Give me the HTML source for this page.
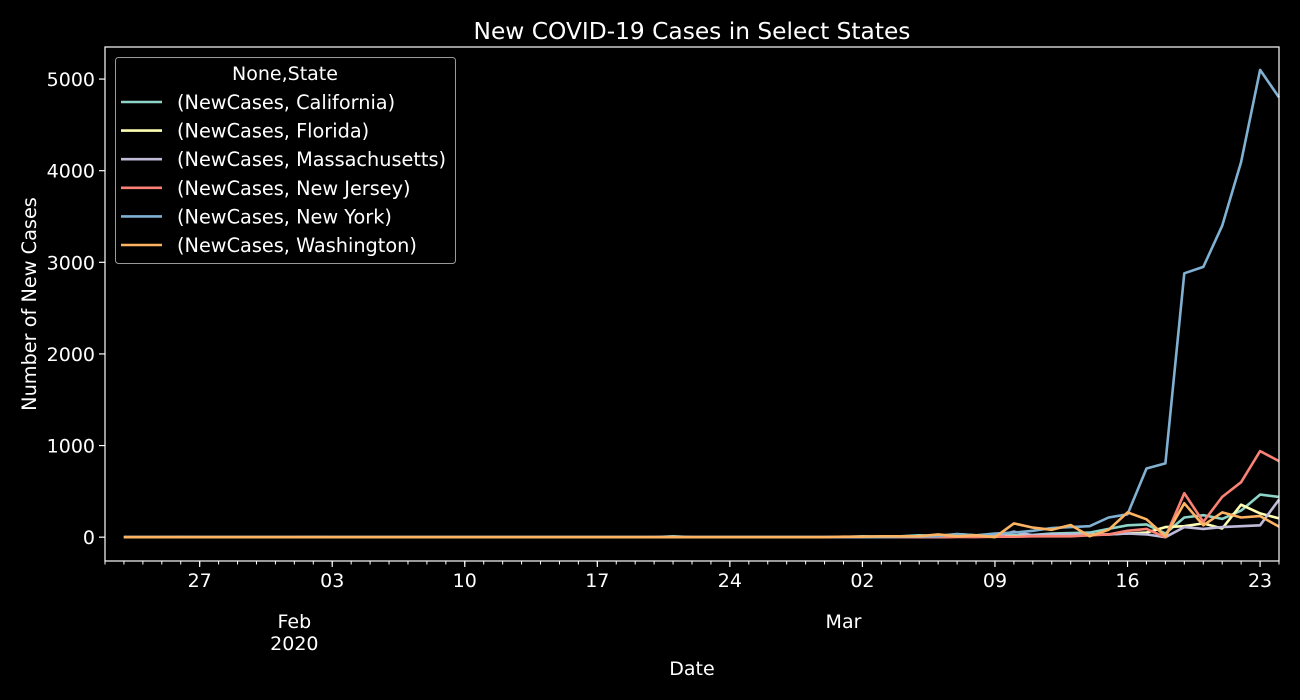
<!DOCTYPE html>
<html><head><meta charset="utf-8"><style>
html,body{margin:0;padding:0;background:#000;}
svg{display:block;font-family:"DejaVu Sans","Liberation Sans",sans-serif;}
</style></head><body>
<svg id="chart" width="1300" height="700" viewBox="0 0 1300 700">
<rect width="1300" height="700" fill="#000"/>
<text x="692" y="39" fill="#fff" font-size="23.3" text-anchor="middle">New COVID-19 Cases in Select States</text>
<text x="692" y="675" fill="#fff" font-size="19" text-anchor="middle">Date</text>
<text transform="translate(36,304) rotate(-90)" fill="#fff" font-size="19.3" text-anchor="middle">Number of New Cases</text>
<g id="yaxis"></g>
<g id="xaxis"></g>
<g id="series"></g>
<rect x="105" y="47" width="1174" height="514" fill="none" stroke="#fff" stroke-width="1.2"/>
<g id="legend">
<rect x="115.5" y="57.5" width="340" height="206" rx="3" fill="#000" stroke="#999" stroke-width="1"/>
<text x="285" y="80" fill="#fff" font-size="19" text-anchor="middle">None,State</text>
</g>
</svg>
<script>
const dates0 = "2020-01-23";
const californiaValues = [0,0,0,1,0,0,0,0,0,0,1,0,0,0,0,0,0,0,0,0,0,0,0,0,0,0,0,0,0,10,0,0,0,0,0,0,0,0,2,10,5,10,20,15,35,20,20,20,25,40,45,50,90,130,140,40,215,240,200,290,465,440];
const floridaValues = [0,0,0,0,0,0,0,0,0,0,0,0,0,0,0,0,0,0,0,0,0,0,0,0,0,0,0,0,0,0,0,0,0,0,0,0,0,0,0,2,0,0,0,0,5,5,10,10,15,20,25,30,30,40,50,110,120,150,95,355,260,205];
const massachusettsValues = [0,0,0,0,0,0,0,0,0,0,0,0,0,0,0,0,0,0,0,0,0,0,0,0,0,0,0,0,0,0,0,0,0,0,0,0,0,0,0,0,0,0,0,0,5,20,10,60,20,30,30,30,30,40,30,0,110,90,110,120,130,410];
const newJerseyValues = [0,0,0,0,0,0,0,0,0,0,0,0,0,0,0,0,0,0,0,0,0,0,0,0,0,0,0,0,0,0,0,0,0,0,0,0,0,0,0,0,0,0,1,1,2,1,5,5,10,10,10,20,30,70,90,0,480,167,440,600,940,830];
const newYorkValues = [0,0,0,0,0,0,0,0,0,0,0,0,0,0,0,0,0,0,0,0,0,0,0,0,0,0,0,0,0,0,0,0,0,0,0,0,0,0,1,0,1,2,5,11,33,20,40,50,70,100,110,120,215,250,750,805,2880,2950,3400,4095,5100,4800];
const washingtonValues = [0,0,0,0,0,0,0,0,0,0,0,0,0,0,0,0,0,0,0,0,0,0,0,0,0,0,0,0,0,0,0,0,0,0,0,0,0,0,5,5,10,10,10,30,10,20,0,150,105,80,133,10,80,270,195,10,370,130,270,215,230,115];
const seriesNames = ["(NewCases, California)","(NewCases, Florida)","(NewCases, Massachusetts)","(NewCases, New Jersey)","(NewCases, New York)","(NewCases, Washington)"];
const seriesColors = ["#8dd3c7","#feffb3","#bfbbd9","#fa8174","#81b1d2","#fdb462"];
const yTicks = [0,1000,2000,3000,4000,5000];
const xMajorLabels = ["27","03","10","17","24","02","09","16","23"];
const xMajorDates = ["2020-01-27","2020-02-03","2020-02-10","2020-02-17","2020-02-24","2020-03-02","2020-03-09","2020-03-16","2020-03-23"];
const monthLabels = ["Feb\n2020","Mar"];
const monthDates = ["2020-02-01","2020-03-01"];

const NS="http://www.w3.org/2000/svg";
const L=105,R=1279,T=47,B=561;
const dayMin=-1, dayMax=61, yMin=-260, yMax=5350;
function dayIdx(s){return Math.round((Date.parse(s)-Date.parse(dates0))/86400000);}
function xs(d){return L+(d-dayMin)/(dayMax-dayMin)*(R-L);}
function ys(v){return B-(v-yMin)/(yMax-yMin)*(B-T);}
function mk(tag,attrs,parent){const e=document.createElementNS(NS,tag);for(const k in attrs)e.setAttribute(k,attrs[k]);parent.appendChild(e);return e;}

const yax=document.getElementById('yaxis');
yTicks.forEach(v=>{
  const t=mk('line',{x1:L-6,x2:L,y1:ys(v),y2:ys(v),stroke:'#fff','stroke-width':1.2},yax);
  
  
  const tx=mk('text',{x:L-10,y:ys(v)+7,fill:'#fff','font-size':19,'text-anchor':'end'},yax);
  tx.textContent=v;
  
  
});
const xax=document.getElementById('xaxis');
for(let d=dayMin; d<=dayMax; d++){
  const m=mk('line',{x1:xs(d),x2:xs(d),y1:B,y2:B+3.5,stroke:'#fff','stroke-width':1},xax);
  
  
}
xMajorDates.forEach((s,i)=>{
  const d=dayIdx(s);
  const t=mk('line',{x1:xs(d),x2:xs(d),y1:B,y2:B+6,stroke:'#fff','stroke-width':1.2},xax);
  
  
  const tx=mk('text',{x:xs(d),y:587,fill:'#fff','font-size':19,'text-anchor':'middle'},xax);
  tx.textContent=xMajorLabels[i];
  
  
});
monthDates.forEach((s,i)=>{
  const d=dayIdx(s);
  monthLabels[i].split("\n").forEach((ln,j)=>{
    const tx=mk('text',{x:xs(d),y:628+j*22,fill:'#fff','font-size':19,'text-anchor':'middle'},xax);
    tx.textContent=ln;
    
    
  });
});
const allSeries=[californiaValues,floridaValues,massachusettsValues,newJerseyValues,newYorkValues,washingtonValues];
const sg=document.getElementById('series');
allSeries.forEach((vals,k)=>{
  const pts=vals.map((v,i)=>xs(i).toFixed(1)+","+ys(v).toFixed(1)).join(" ");
  const p=mk('polyline',{points:pts,fill:'none',stroke:seriesColors[k],'stroke-width':2.6,'stroke-linejoin':'round'},sg);
  
  
});
const lg=document.getElementById('legend');
seriesNames.forEach((n,k)=>{
  const y=102+k*28.6;
  const ln=mk('line',{x1:121,x2:162,y1:y,y2:y,stroke:seriesColors[k],'stroke-width':2.6},lg);
  
  
  const tx=mk('text',{x:177,y:y+7,fill:'#fff','font-size':19.3},lg);
  tx.textContent=n;
  
  
});
</script>
</body></html>
